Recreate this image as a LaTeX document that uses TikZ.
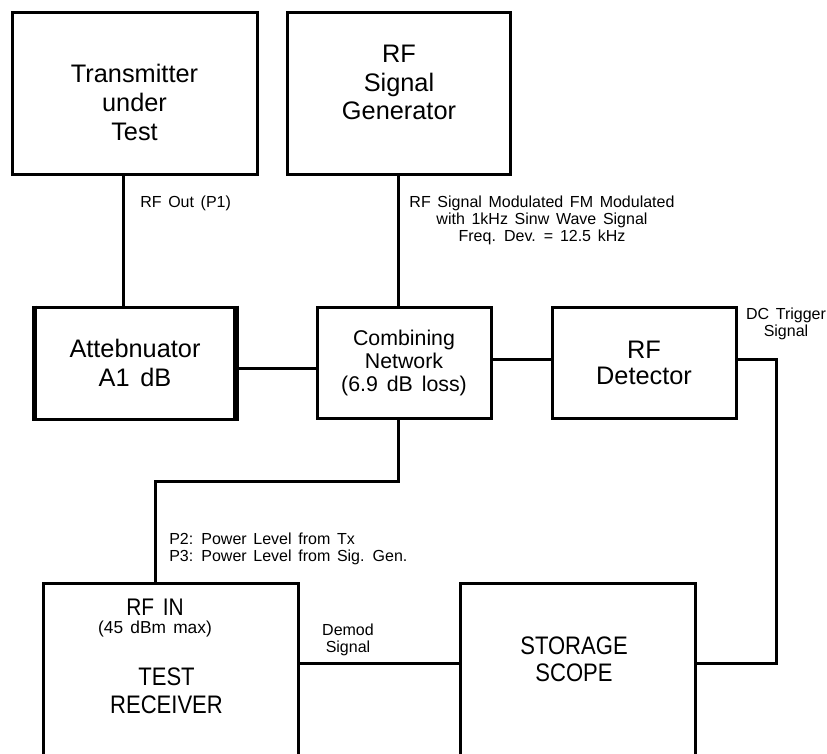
\documentclass[tikz,border=0pt]{standalone}
\usepackage{fontspec}
\setmainfont[WordSpace=1.5]{Liberation Sans}
\newfontfamily\narrowfont[FakeStretch=0.87,WordSpace=1.5]{Liberation Sans}
\usetikzlibrary{calc}
\tikzset{
	block/.style={shape=rectangle,draw,line width=2.25pt,align=center,font=\fontsize{19}{21.5}\selectfont},
	wire/.style={line width=2.25pt},
	bigtext/.style={align=center,inner sep=0pt,font=\fontsize{19}{21.5}\selectfont},
	narrowtext/.style={align=center,inner sep=0pt,font=\narrowfont\fontsize{19}{21}\selectfont},
	lbl/.style={align=center,inner sep=0pt,font=\fontsize{12}{12.75}\selectfont},
}

\begin{document}
\begin{tikzpicture}[x=0.75pt,y=-0.75pt]
	\useasboundingbox (0,0) rectangle (827,753);
	\clip (0,0) rectangle (827,753);
	% top row
	\draw (134.5,93) node (tx) [block,minimum width=183.75pt,minimum height=121.5pt] {};
	\draw (134.5,102.5) node (txtext) [bigtext] {Transmitter\\under\\Test};
	\draw (398.5,93) node (gen) [block,minimum width=167.25pt,minimum height=121.5pt] {};
	\draw (399,82.5) node (gentext) [bigtext] {RF\\Signal\\Generator};
	% middle row
	\draw (135,363) node (att) [block,minimum width=153pt,minimum height=84pt] {Attebnuator\\A1 dB};
	\draw[line width=4pt] ([xshift=2pt]att.north west) -- ([xshift=2pt]att.south west);
	\draw[line width=4pt] ([xshift=-2pt]att.north east) -- ([xshift=-2pt]att.south east);
	\draw (404,362.5) node (comb) [block,minimum width=130.5pt,minimum height=83.25pt,font=\fontsize{16}{17.25}\selectfont] {Combining\\Network\\(6.9 dB loss)};
	\draw (644,362.5) node (det) [block,minimum width=138pt,minimum height=83.25pt,font=\fontsize{19}{19.5}\selectfont] {RF\\Detector};
	% bottom row
	\draw (170.5,693) node (rx) [block,minimum width=191.25pt,minimum height=165pt] {};
	\draw (155,607) node (rfin) [narrowtext,font=\narrowfont\fontsize{18}{20}\selectfont] {RF IN};
	\draw (155,629) node (rxmax) [lbl,font=\fontsize{13}{14}\selectfont] {(45 dBm max)};
	\draw (166.5,691) node (rxtext) [narrowtext] {TEST\\RECEIVER};
	\draw (577.5,693) node (scope) [block,minimum width=176.25pt,minimum height=165pt] {};
	\draw (574,659.5) node (scopetext) [narrowtext,font=\narrowfont\fontsize{19}{20.25}\selectfont] {STORAGE\\SCOPE};
	% connections
	\coordinate (rxin) at (155,481);
	\coordinate (trig) at (776,663);
	\draw[wire] ([xshift=-7.9pt]tx.south) -- ([xshift=-7.9pt]tx.south |- att.north);
	\draw[wire] (gen.south) -- (gen.south |- comb.north);
	\draw[wire] ([yshift=-3.75pt]att.east) -- ([yshift=-3.75pt]att.east -| comb.west);
	\draw[wire] ([yshift=2.6pt]comb.east) -- ([yshift=2.6pt]comb.east -| det.west);
	\draw[wire] (gen.south |- comb.south) |- (rxin) -- (rxin |- rx.north);
	\draw[wire] ([yshift=2.6pt]det.east) -| (trig) -- (trig -| scope.east);
	\draw[wire] (trig -| rx.east) -- (trig -| scope.west);
	% labels
	\draw (140,203) node (rfout) [lbl,anchor=west] {RF Out (P1)};
	\draw (542,220) node (sigmod) [lbl] {RF Signal Modulated FM Modulated\\with 1kHz Sinw Wave Signal\\Freq. Dev. = 12.5 kHz};
	\draw (786,324) node (dctrig) [lbl] {DC Trigger\\Signal};
	\draw (169,548.5) node (power) [lbl,anchor=west,align=left] {P2: Power Level from Tx\\P3: Power Level from Sig. Gen.};
	\draw (348,640) node (demod) [lbl] {Demod\\Signal};
\end{tikzpicture}
\end{document}
